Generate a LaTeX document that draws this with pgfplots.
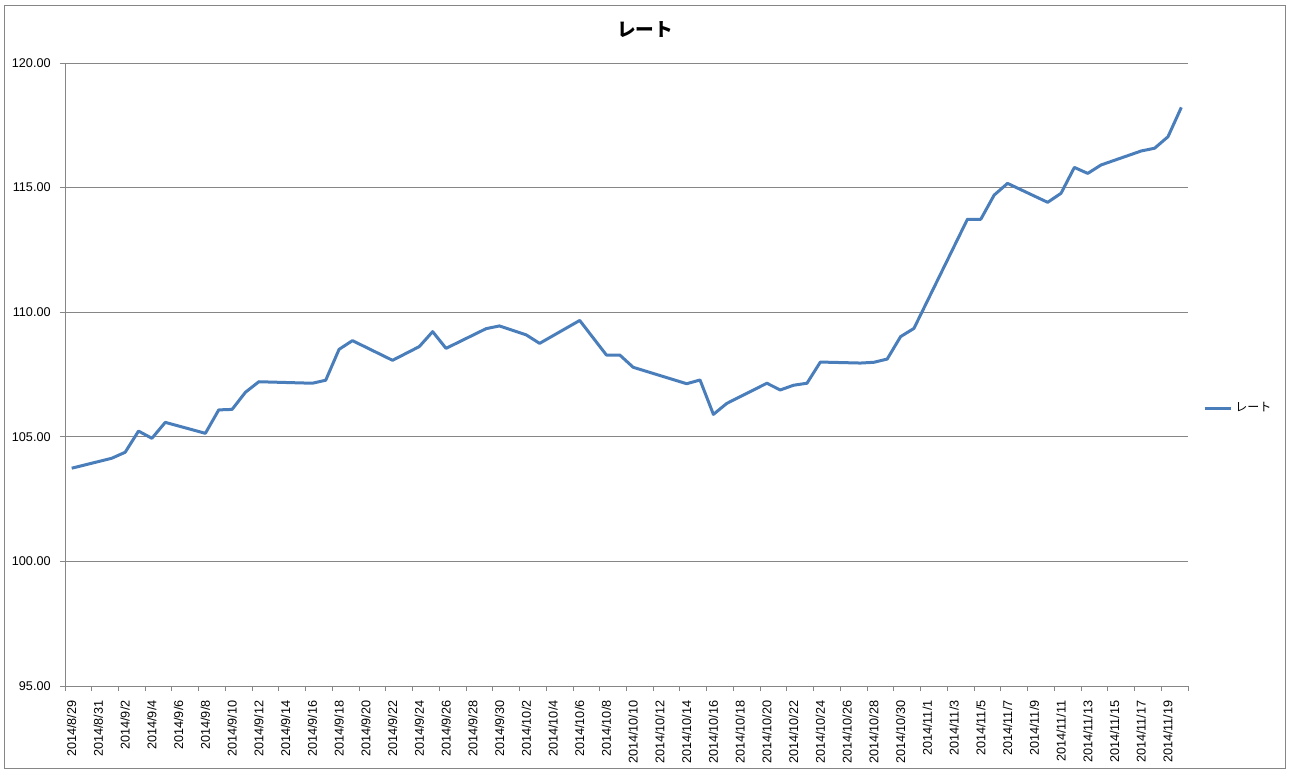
\documentclass[border=0pt]{standalone}
\usepackage{pgfplots}
\pgfplotsset{compat=1.18}
\usepackage{fontspec}
\setmainfont{Liberation Sans}
\newfontfamily\cjk{Noto Sans CJK JP}

\definecolor{rateblue}{RGB}{74,126,187}
\definecolor{axisgray}{RGB}{134,134,134}

% daily rate, index 0 = 2014/8/29 (weekends and JP holidays have no value)
\pgfplotstableread{
idx rate
0 103.74
3 104.14
4 104.38
5 105.23
6 104.94
7 105.58
10 105.14
11 106.08
12 106.10
13 106.79
14 107.21
18 107.15
19 107.27
20 108.51
21 108.86
24 108.07
26 108.62
27 109.22
28 108.55
31 109.34
32 109.45
34 109.09
35 108.75
38 109.67
40 108.28
41 108.28
42 107.79
46 107.13
47 107.28
48 105.90
49 106.34
52 107.15
53 106.88
54 107.07
55 107.15
56 108.00
59 107.96
60 107.99
61 108.12
62 109.02
63 109.35
67 113.73
68 113.73
69 114.70
70 115.17
73 114.41
74 114.77
75 115.81
76 115.57
77 115.91
80 116.47
81 116.58
82 117.04
83 118.22
}\ratetable

\begin{document}
\begin{tikzpicture}
\useasboundingbox[fill=white] (0pt,0pt) rectangle (970.5pt,-581.25pt);
\draw[axisgray, line width=0.75pt] (3pt,-3.75pt) rectangle (963.75pt,-576pt);
\node[font=\cjk\bfseries\fontsize{14}{16}\selectfont] at (483.75pt,-22.5pt) {レート};
\begin{axis}[
    at={(48.75pt,-514.5pt)}, anchor=south west,
    scale only axis,
    width=842.25pt, height=467.25pt,
    xmin=-0.5, xmax=83.5,
    ymin=95, ymax=120,
    axis x line=bottom, axis y line=left,
    axis line style={axisgray, line width=0.75pt, -},
    xtick={0,2,...,82},
    xticklabels={2014/8/29,2014/8/31,2014/9/2,2014/9/4,2014/9/6,2014/9/8,2014/9/10,2014/9/12,2014/9/14,2014/9/16,2014/9/18,2014/9/20,2014/9/22,2014/9/24,2014/9/26,2014/9/28,2014/9/30,2014/10/2,2014/10/4,2014/10/6,2014/10/8,2014/10/10,2014/10/12,2014/10/14,2014/10/16,2014/10/18,2014/10/20,2014/10/22,2014/10/24,2014/10/26,2014/10/28,2014/10/30,2014/11/1,2014/11/3,2014/11/5,2014/11/7,2014/11/9,2014/11/11,2014/11/13,2014/11/15,2014/11/17,2014/11/19},
    x tick label style={rotate=90, anchor=east, font=\fontsize{9.5}{10}\selectfont, xshift=-3.5pt},
    major x tick style={draw=none},
    minor xtick={-0.5,1.5,...,83.5},
    minor x tick style={axisgray, line width=0.75pt},
    minor tick length=3.75pt,
    ytick={95,100,...,120},
    yticklabel style={font=\fontsize{9.5}{10}\selectfont, xshift=-3.5pt, /pgf/number format/.cd, fixed, fixed zerofill, precision=2},
    /pgf/number format/assume math mode=true,
    major y tick style={axisgray, line width=0.75pt},
    major tick length=3.75pt,
    tick align=outside,
    ymajorgrids=true,
    grid style={axisgray, line width=0.75pt},
    legend style={at={(1.012,0.446)}, anchor=west, draw=none, fill=none,
        font=\cjk\fontsize{9}{10}\selectfont, inner sep=1pt},
    legend image code/.code={\draw[#1, line width=2.25pt] (0pt,0pt) -- (20pt,0pt);},
]
\addplot[color=rateblue, line width=2.25pt, line join=round, no markers] table[x=idx, y=rate] {\ratetable};
\addlegendentry{レート}
\end{axis}
\end{tikzpicture}
\end{document}
